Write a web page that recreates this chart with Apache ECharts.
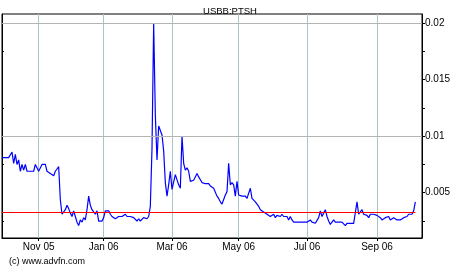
<!DOCTYPE html>
<html>
<head>
<meta charset="utf-8">
<script src="https://cdn.jsdelivr.net/npm/echarts@6/dist/echarts.min.js"></script>
<style>html,body{margin:0;padding:0;background:#fff}#c{width:460px;height:266px}</style>
</head>
<body>
<div id="c"></div>
<script>
const chartTitle = 'USBB:PTSH';
const credit = '(c) www.advfn.com';

// closing prices, one per session
const price = [
0.0081,0.0081,0.0081,0.0081,0.0081,0.0082,0.0086,0.0076,0.0084,0.0075,
0.0079,0.0069,0.0075,0.0070,0.0075,0.0069,0.0070,0.0069,0.0069,0.0069,
0.0075,0.0075,0.0069,0.0069,0.0075,0.0075,0.0075,0.0069,0.0068,0.0067,
0.0066,0.0065,0.0069,0.0071,0.0073,0.0044,0.0031,0.0030,0.0035,0.0039,
0.0036,0.0032,0.0029,0.0034,0.0029,0.0024,0.0021,0.0026,0.0024,0.0028,
0.0026,0.0035,0.0047,0.0039,0.0035,0.0034,0.0031,0.0034,0.0025,0.0025,
0.0025,0.0028,0.0034,0.0034,0.0034,0.0031,0.0029,0.0029,0.0027,0.0026,
0.0029,0.0029,0.0029,0.0030,0.0031,0.0029,0.0029,0.0029,0.0028,0.0028,
0.0028,0.0025,0.0027,0.0025,0.0025,0.0028,0.0027,0.0027,0.0029,0.0038,
0.0089,0.0200,0.0119,0.0079,0.0109,0.0109,0.0101,0.0087,0.0059,0.0047,
0.0057,0.0069,0.0053,0.0054,0.0066,0.0066,0.0057,0.0054,0.0100,0.0076,
0.0070,0.0072,0.0069,0.0060,0.0061,0.0061,0.0061,0.0067,0.0064,0.0064,
0.0059,0.0059,0.0058,0.0059,0.0058,0.0056,0.0055,0.0054,0.0053,0.0047,
0.0045,0.0042,0.0040,0.0044,0.0048,0.0051,0.0076,0.0057,0.0059,0.0057,
0.0047,0.0060,0.0048,0.0047,0.0047,0.0047,0.0047,0.0045,0.0044,0.0054,
0.0045,0.0044,0.0042,0.0041,0.0038,0.0035,0.0034,0.0033,0.0032,0.0031,
0.0031,0.0029,0.0028,0.0031,0.0028,0.0030,0.0029,0.0029,0.0031,0.0029,
0.0029,0.0029,0.0026,0.0029,0.0026,0.0024,0.0024,0.0024,0.0024,0.0024,
0.0024,0.0024,0.0025,0.0024,0.0025,0.0026,0.0024,0.0023,0.0023,0.0022,
0.0028,0.0034,0.0029,0.0032,0.0035,0.0029,0.0025,0.0022,0.0024,0.0026,
0.0024,0.0024,0.0024,0.0025,0.0024,0.0023,0.0021,0.0023,0.0023,0.0023,
0.0023,0.0023,0.0023,0.0042,0.0031,0.0032,0.0035,0.0031,0.0030,0.0030,
0.0028,0.0031,0.0031,0.0031,0.0031,0.0030,0.0030,0.0028,0.0026,0.0027,
0.0028,0.0027,0.0029,0.0026,0.0025,0.0028,0.0027,0.0026,0.0025,0.0026,
0.0027,0.0028,0.0029,0.0029,0.0031,0.0032,0.0031,0.0034,0.0042
];

// session slots on the time axis (including a few empty slots at the right end)
const sessionCount = 253;
const sessions = Array.from({length: sessionCount}, (_, i) => 's' + i);

// month tick labels and the session they fall on
const tickLabels = ['Nov 05', 'Jan 06', 'Mar 06', 'May 06', 'Jul 06', 'Sep 06'];
const tickAt = [22, 61, 102, 142, 183, 225];

// y axis
const yMin = 0.001;
const yMax = 0.0208;
const yLabels = [0.005, 0.01, 0.015, 0.02];
const yMinor = [0.0025, 0.0075, 0.0125, 0.0175];
const refPrice = 0.0033;

const font = '"Liberation Sans", Arial, sans-serif';
const chart = echarts.init(document.getElementById('c'), null, {renderer: 'canvas'});
const isTick = (i) => tickAt.indexOf(i) >= 0;

chart.setOption({
  animation: false,
  backgroundColor: '#ffffff',
  title: [
    {text: chartTitle, left: 'center', top: 1,
     textStyle: {fontSize: 9.5, fontWeight: 'normal', color: '#000', fontFamily: font}},
    {text: credit, left: 4, top: 252,
     textStyle: {fontSize: 9, fontWeight: 'normal', color: '#000', fontFamily: font}}
  ],
  grid: {left: 2, right: 38, top: 14, bottom: 28, show: true, borderColor: '#000', borderWidth: 1,
         backgroundColor: 'transparent', containLabel: false},
  xAxis: {
    type: 'category', data: sessions, boundaryGap: false,
    axisLine: {show: true, lineStyle: {color: '#000', width: 1}},
    axisTick: {show: true, interval: (i) => isTick(i), length: 3, lineStyle: {color: '#000'}},
    axisLabel: {interval: (i) => isTick(i), margin: 4, fontSize: 10, color: '#000', fontFamily: font,
      formatter: (v, i) => { const k = tickAt.indexOf(i); return k >= 0 ? tickLabels[k] : ''; }},
    splitLine: {show: true, interval: (i) => isTick(i), lineStyle: {color: '#a6c6ca', width: 1}}
  },
  yAxis: [
    {type: 'value', position: 'right', min: yMin, max: yMax,
     axisLine: {show: true, lineStyle: {color: '#000', width: 1}},
     axisTick: {show: true, customValues: yMinor.concat(yLabels).sort((a, b) => a - b), length: 3, lineStyle: {color: '#000'}},
     axisLabel: {show: true, customValues: yLabels, margin: 3, fontSize: 10, color: '#000', fontFamily: font,
       formatter: (v) => String(v)},
     splitLine: {show: false}},
    {type: 'value', position: 'left', min: yMin, max: yMax,
     axisLine: {show: true, lineStyle: {color: '#000', width: 1}},
     axisTick: {show: true, inside: true, customValues: yMinor, length: 2, lineStyle: {color: '#000'}},
     axisLabel: {show: false},
     splitLine: {show: false}}
  ],
  series: [
    {type: 'line', name: 'grid', data: [], yAxisIndex: 0, z: 1, silent: true,
     markLine: {silent: true, symbol: 'none', label: {show: false}, animation: false,
       lineStyle: {color: '#b4b4b4', type: 'solid', width: 1},
       data: yLabels.map(v => ({yAxis: v}))}},
    {type: 'line', name: 'price', data: price, yAxisIndex: 0, z: 2, showSymbol: false, symbol: 'none',
     lineStyle: {color: '#0000ff', width: 1.2}},
    {type: 'line', name: 'ref', data: [], yAxisIndex: 0, z: 3, silent: true,
     markLine: {silent: true, symbol: 'none', label: {show: false}, animation: false,
       lineStyle: {color: '#ff0000', type: 'solid', width: 1.2},
       data: [[{coord: [sessions[0], refPrice]}, {coord: [sessions[price.length - 1], refPrice]}]]}}
  ]
});
</script>
</body>
</html>
